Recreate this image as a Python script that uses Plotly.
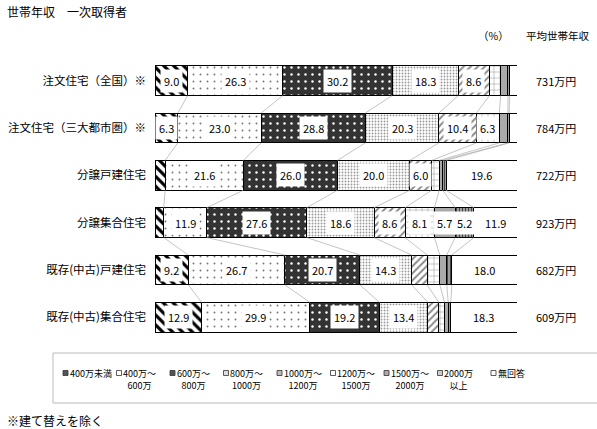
import plotly.graph_objs as go

# Data (%), one list per income band, rows in display order
rows = ['注文住宅（全国）※', '注文住宅（三大都市圏）※', '分譲戸建住宅',
        '分譲集合住宅', '既存(中古)戸建住宅', '既存(中古)集合住宅']
lt400 = [9.0, 6.3, 2.8, 2.4, 9.2, 12.9]
r400_600 = [26.3, 23.0, 21.6, 11.9, 26.7, 29.9]
r600_800 = [30.2, 28.8, 26.0, 27.6, 20.7, 19.2]
r800_1000 = [18.3, 20.3, 20.0, 18.6, 14.3, 13.4]
r1000_1200 = [8.6, 10.4, 6.0, 8.6, 4.3, 3.0]
r1200_1500 = [3.1, 6.3, 2.1, 8.1, 3.5, 1.6]
r1500_2000 = [2.0, 2.4, 1.0, 5.7, 1.9, 1.0]
ge2000 = [0.5, 0.3, 0.9, 5.2, 1.4, 0.7]
no_answer = [2.0, 2.2, 19.6, 11.9, 18.0, 18.3]
avg_income = ['731万円', '784万円', '722万円', '923万円', '682万円', '609万円']
band_labels = ['400万未満', '400万～<br>600万', '600万～<br>800万', '800万～<br>1000万',
               '1000万～<br>1200万', '1200万～<br>1500万', '1500万～<br>2000万',
               '2000万<br>以上', '無回答']

series = [lt400, r400_600, r600_800, r800_1000, r1000_1200,
          r1200_1500, r1500_2000, ge2000, no_answer]

# pattern per band (shape, fg, bg, size, solidity)
patterns = [
    ('\\', 'black', 'white', 7, 0.45),
    ('.', '#777777', 'white', 7, 0.06),
    ('.', 'white', '#333333', 7, 0.1),
    ('.', '#9a9a9a', 'white', 3, 0.3),
    ('/', '#8a8a8a', 'white', 5, 0.4),
    ('+', '#888888', 'white', 6, 0.15),
    ('', '#aaaaaa', '#aaaaaa', 6, 0.3),
    ('|', '#444444', '#bbbbbb', 3, 0.5),
    ('', 'white', 'white', 6, 0.3),
]
legend_fill = ['#555555', 'white', '#555555', '#dddddd', '#bbbbbb',
               'white', '#aaaaaa', '#cccccc', 'white']

FONT = 'Noto Sans CJK JP'
W, H = 597, 429
L, R, T, B = 155, 80, 57, 88
BAR_W = 0.63

ypos = list(range(len(rows)))

fig = go.Figure()

for vals, (shape, fg, bg, size, sol), name in zip(series, patterns, band_labels):
    fig.add_trace(go.Bar(
        x=vals, y=ypos, orientation='h', width=BAR_W, name=name,
        marker=dict(color=bg, line=dict(color='black', width=1),
                    pattern=dict(shape=shape, fgcolor=fg, bgcolor=bg, size=size,
                                 solidity=sol, fillmode='replace')),
        showlegend=False, hoverinfo='x+name'))

# cumulative boundaries for each row
cums = []
for i in range(len(rows)):
    c, acc = [], 0
    for s in series:
        acc += s[i]
        c.append(acc)
    cums.append(c)

# series lines between neighbouring bars
lx, ly = [], []
for k in range(len(series) - 1):
    for i in range(len(rows) - 1):
        lx += [cums[i][k], cums[i + 1][k], None]
        ly += [i + BAR_W / 2, i + 1 - BAR_W / 2, None]
fig.add_trace(go.Scatter(x=lx, y=ly, mode='lines', line=dict(color='#aaaaaa', width=0.7),
                         showlegend=False, hoverinfo='skip'))

annotations = []
# value labels with white boxes
for i in range(len(rows)):
    start = 0
    for s in series:
        v = s[i]
        if v >= 5:
            annotations.append(dict(x=start + v / 2, y=i, xref='x', yref='y', text=f'{v:.1f}',
                                    showarrow=False, bgcolor='white', borderpad=3,
                                    xanchor='center', yanchor='middle',
                                    font=dict(family=FONT, size=11, color='black')))
        start += v


def px_x(p):
    return (p - L) / (W - L - R)


def px_y(p):
    return (H - B - p) / (H - T - B)


# average income column
for i, t in enumerate(avg_income):
    annotations.append(dict(x=px_x(556), y=i, xref='paper', yref='y', text=t, showarrow=False,
                            xanchor='center', yanchor='middle',
                            font=dict(family=FONT, size=11, color='black')))

annotations += [
    dict(x=px_x(5), y=px_y(11), xref='paper', yref='paper', text='世帯年収　一次取得者',
         xanchor='left', yanchor='middle', showarrow=False,
         font=dict(family=FONT, size=12, color='black')),
    dict(x=px_x(493), y=px_y(35), xref='paper', yref='paper', text='（%）',
         xanchor='center', yanchor='middle', showarrow=False,
         font=dict(family=FONT, size=10.5, color='black')),
    dict(x=px_x(558), y=px_y(35), xref='paper', yref='paper', text='平均世帯年収',
         xanchor='center', yanchor='middle', showarrow=False,
         font=dict(family=FONT, size=10.5, color='black')),
    dict(x=px_x(5), y=px_y(420), xref='paper', yref='paper', text='※建て替えを除く',
         xanchor='left', yanchor='middle', showarrow=False,
         font=dict(family=FONT, size=12, color='black')),
]

# hand-made legend box below the chart
shapes = [dict(type='rect', xref='paper', yref='paper', x0=px_x(53), x1=px_x(598),
               y0=px_y(353), y1=px_y(403), line=dict(color='#bbbbbb', width=1))]
for j, lab in enumerate(band_labels):
    x0 = 63 + j * 53.5
    shapes.append(dict(type='rect', xref='paper', yref='paper', x0=px_x(x0), x1=px_x(x0 + 5),
                       y0=px_y(375.5), y1=px_y(370.5), fillcolor=legend_fill[j],
                       line=dict(color='#333333', width=0.8)))
    annotations.append(dict(x=px_x(x0 + 5.5), y=px_y(366), xref='paper', yref='paper', text=lab,
                            xanchor='left', yanchor='top', align='center', showarrow=False,
                            borderpad=0, font=dict(family=FONT, size=9, color='black')))

fig.update_layout(
    barmode='stack', width=W, height=H,
    margin=dict(l=L, r=R, t=T, b=B),
    plot_bgcolor='white', paper_bgcolor='white',
    annotations=annotations, shapes=shapes,
    font=dict(family=FONT, size=11, color='black'),
)
fig.update_xaxes(range=[0, 100], visible=False, fixedrange=True, automargin=False)
fig.update_yaxes(range=[len(rows) - 0.5, -0.5], tickvals=ypos, ticktext=rows,
                 showgrid=False, zeroline=False, showline=False, ticks='',
                 automargin=False, ticklabelstandoff=8,
                 tickfont=dict(family=FONT, size=11.5, color='black'))

# page has a default body margin; drop it so the figure sits at the corner
fig.write_html('out.html', config={'displayModeBar': False},
               post_script="document.body.style.margin='0px';")
